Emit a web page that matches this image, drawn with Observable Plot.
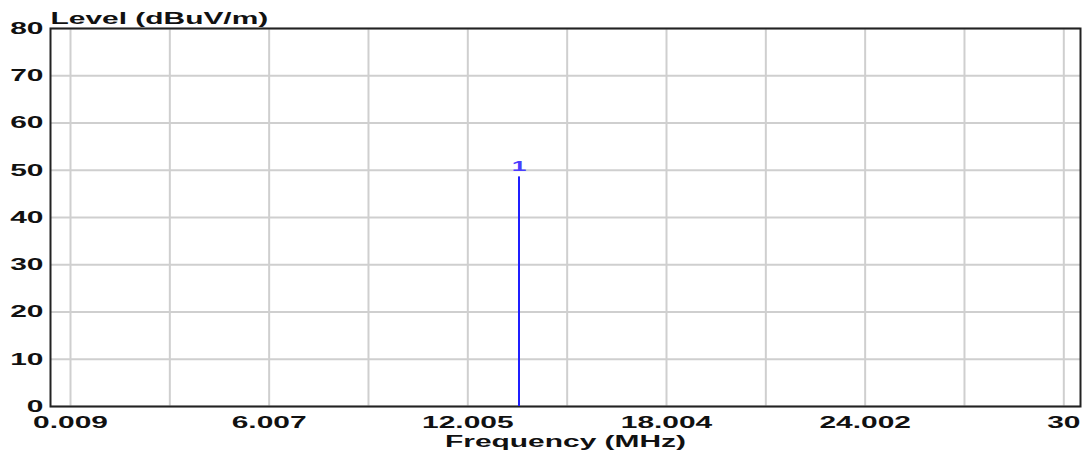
<!DOCTYPE html>
<html>
<head>
<meta charset="utf-8">
<script src="https://cdn.jsdelivr.net/npm/d3@7"></script>
<script src="https://cdn.jsdelivr.net/npm/@observablehq/plot@0.6"></script>
<style>
  html, body { margin: 0; padding: 0; background: #fff; }
</style>
</head>
<body>
<div id="chart"></div>
<script>
// ---- data ----
const markerFreqs = [13.55];      // MHz
const markerLevels = [48.6];      // dBuV/m
const markerNames = ["1"];

const xTickValues = [0.009, 6.007, 12.005, 18.004, 24.002, 30];
const xTickLabels = ["0.009", "6.007", "12.005", "18.004", "24.002", "30"];
const xGridValues = [0.009, 3.008, 6.007, 9.006, 12.005, 15.005, 18.004, 21.003, 24.002, 27.001, 30];
const yTickValues = [0, 10, 20, 30, 40, 50, 60, 70, 80];

const yTitle = "Level (dBuV/m)";
const xTitle = "Frequency (MHz)";

// ---- build ----
const markers = markerFreqs.map((f, i) => ({f, level: markerLevels[i], name: markerNames[i]}));
const xLab = new Map(xTickValues.map((v, i) => [v, xTickLabels[i]]));
const gridColor = "#cfcfcf";
const textColor = "#111";

const chart = Plot.plot({
  width: 1086,
  height: 455,
  marginLeft: 50,
  marginRight: 6,
  marginTop: 28,
  marginBottom: 49,
  style: {
    fontFamily: "'Liberation Sans', Arial, sans-serif",
    fontSize: "17px",
    fontWeight: "bold",
    color: textColor,
    background: "#fff"
  },
  x: {domain: [-0.595, 30.504]},
  y: {domain: [0, 80]},
  marks: [
    Plot.gridX(xGridValues, {stroke: gridColor, strokeOpacity: 1, strokeWidth: 2}),
    Plot.gridY(yTickValues, {stroke: gridColor, strokeOpacity: 1, strokeWidth: 2}),
    Plot.frame({stroke: "#222", strokeWidth: 2}),
    Plot.axisX(xTickValues, {tickSize: 0, tickPadding: 9, tickFormat: d => xLab.get(d), label: null}),
    Plot.axisY(yTickValues, {tickSize: 0, tickPadding: 7, label: null}),
    Plot.ruleX(markers, {x: "f", y1: 0, y2: "level", stroke: "#1f1fff", strokeWidth: 2}),
    Plot.text(markers, {x: "f", y: "level", text: "name", dy: -6, lineAnchor: "bottom",
      fill: "#4a3cff", fontSize: 15, fontWeight: "bold"}),
    Plot.text([yTitle], {frameAnchor: "top-left", textAnchor: "start", lineAnchor: "bottom", dy: -5, fill: textColor}),
    Plot.text([xTitle], {frameAnchor: "bottom", textAnchor: "middle", lineAnchor: "bottom", dy: 40.5, fill: textColor})
  ]
});

// horizontally stretch glyphs to match the reference's wide lettering
const stretch = 1.76;
d3.select(chart).selectAll("text").each(function() {
  const t = this.getAttribute("transform") || "";
  const x = this.getAttribute("x");
  let extra = "";
  if (x !== null && x !== "" && !isNaN(+x)) {
    extra = ` translate(${+x},0)`;
    this.removeAttribute("x");
  }
  this.setAttribute("transform", `${t}${extra} scale(${stretch},1)`);
});

document.getElementById("chart").appendChild(chart);
</script>
</body>
</html>
